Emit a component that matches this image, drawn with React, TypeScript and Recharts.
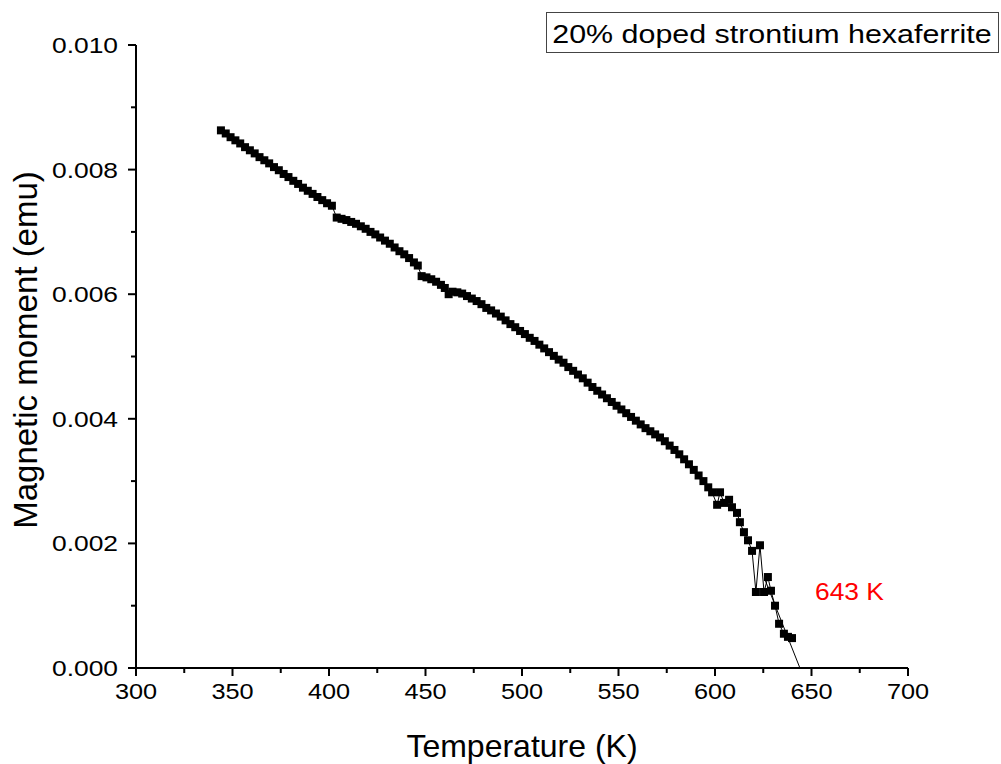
import { ComposedChart, Line, XAxis, YAxis } from "recharts";

// measured points, in temperature order
const temps = [
  344, 346.5, 349, 351.5, 354, 356.5, 359, 361.5, 364, 366.5, 369, 371.5, 374, 376.5, 379, 381.5,
  384, 386.5, 389, 391.5, 394, 396.5, 399, 401.5,
  404, 406.5, 409, 411.5, 414, 416.5, 419, 421.5, 424, 426.5, 429, 431.5, 434, 436.5, 439, 441.5,
  444, 446,
  448, 450.5, 453, 455.5, 458, 460, 462, 464, 466.5, 469, 471.5, 474, 476.5, 479, 481.5, 484,
  486.5, 489, 491.5, 494, 496.5, 499, 501.5, 504, 506.5, 509, 511.5, 514, 516.5, 519, 521.5, 524,
  526.5, 529, 531.5, 534, 536.5, 539, 541.5, 544, 546.5, 549, 551.5, 554, 556.5, 559, 561.5, 564,
  566.5, 569, 571.5, 574, 576.5, 579, 581.5, 584, 586.5, 589, 591.5, 594, 596.5, 598.5,
  601.1, 602.6, 604.7, 607.3, 608.8, 611.4, 612.9, 615, 617.1, 619.2, 621.2, 623.3, 625.4, 627.4,
  629, 631.1, 633.2, 635.7, 637.8, 639.9,
];

const moments = [
  0.00863, 0.00858, 0.00852, 0.00847, 0.00842, 0.00836, 0.00831, 0.00826, 0.0082, 0.00815, 0.0081,
  0.00804, 0.00799, 0.00793, 0.00788, 0.00782, 0.00777, 0.00771, 0.00766, 0.00761, 0.00756,
  0.00751, 0.00746, 0.00742,
  0.00723, 0.00721, 0.00719, 0.00716, 0.00713, 0.00709, 0.00705, 0.007, 0.00696, 0.00691, 0.00686,
  0.00681, 0.00675, 0.00669, 0.00664, 0.00658, 0.00651, 0.00646,
  0.00629, 0.00627, 0.00624, 0.0062, 0.00615, 0.0061, 0.006, 0.00604, 0.00603, 0.00601, 0.00597,
  0.00593, 0.00589, 0.00584, 0.00578, 0.00574, 0.00569, 0.00564, 0.00558, 0.00552, 0.00547,
  0.00541, 0.00536, 0.0053, 0.00525, 0.00519, 0.00513, 0.00507, 0.00501, 0.00495, 0.0049, 0.00483,
  0.00477, 0.00471, 0.00465, 0.00458, 0.00451, 0.00445, 0.00439, 0.00433, 0.00427, 0.00421,
  0.00415, 0.00409, 0.00403, 0.00397, 0.00391, 0.00385, 0.0038, 0.00375, 0.0037, 0.00364, 0.00357,
  0.0035, 0.00343, 0.00335, 0.00327, 0.00318, 0.00309, 0.003, 0.0029, 0.00282,
  0.00262, 0.00282, 0.00265, 0.0027, 0.00258, 0.00249, 0.00234, 0.00218, 0.00205, 0.00188,
  0.00122, 0.00197, 0.00122, 0.00146, 0.00124, 0.001, 0.00071, 0.00055, 0.0005, 0.00048,
];

// linear extrapolation to the Curie point
const fitTemps = [626, 644];
const fitMoments = [0.00141, 0];

const xTicks = [300, 325, 350, 375, 400, 425, 450, 475, 500, 525, 550, 575, 600, 625, 650, 675, 700];
const yTicks = [0, 0.001, 0.002, 0.003, 0.004, 0.005, 0.006, 0.007, 0.008, 0.009, 0.01];

const points = temps.map((t, i) => ({ t, m: moments[i] }));
const fit = fitTemps.map((t, i) => ({ t, m: fitMoments[i] }));

const font = "'Liberation Sans', Arial, sans-serif";

function SquareDot(props: any) {
  const { cx, cy } = props;
  if (cx == null || cy == null) return null;
  return <rect x={cx - 4} y={cy - 4} width={8} height={8} fill="#000" />;
}

function XTick(props: any) {
  const { x, y, payload } = props;
  const major = payload.value % 50 === 0;
  return (
    <g>
      <line x1={x} x2={x} y1={y} y2={y + (major ? 8 : 5)} stroke="#000" strokeWidth={2} />
      {major && (
        <text
          transform={`translate(${x},${y + 31}) scale(1.15,1)`}
          textAnchor="middle"
          fontSize={22}
          fontFamily={font}
          fill="#000"
        >
          {payload.value}
        </text>
      )}
    </g>
  );
}

function YTick(props: any) {
  const { x, y, payload } = props;
  const major = Math.round(payload.value * 1000) % 2 === 0;
  return (
    <g>
      <line x1={x} x2={x - (major ? 8 : 5)} y1={y} y2={y} stroke="#000" strokeWidth={2} />
      {major && (
        <text
          transform={`translate(${x - 18},${y + 8}) scale(1.2,1)`}
          textAnchor="end"
          fontSize={22}
          fontFamily={font}
          fill="#000"
        >
          {payload.value.toFixed(3)}
        </text>
      )}
    </g>
  );
}

export default function App() {
  return (
    <div style={{ position: "absolute", left: 0, top: 0, width: 1001, height: 764, background: "#fff" }}>
      <ComposedChart width={1001} height={764} margin={{ top: 45, right: 93, bottom: 0, left: 0 }}>
        <XAxis
          dataKey="t"
          type="number"
          domain={[300, 700]}
          ticks={xTicks}
          interval={0}
          allowDataOverflow
          height={96}
          tickSize={0}
          tickMargin={0}
          tickLine={false}
          axisLine={{ stroke: "#000", strokeWidth: 2 }}
          tick={<XTick />}
        />
        <YAxis
          dataKey="m"
          type="number"
          domain={[0, 0.01]}
          ticks={yTicks}
          interval={0}
          allowDataOverflow
          width={136}
          tickSize={0}
          tickMargin={0}
          tickLine={false}
          axisLine={{ stroke: "#000", strokeWidth: 2 }}
          tick={<YTick />}
        />
        <Line
          data={points}
          dataKey="m"
          stroke="#000"
          strokeWidth={1}
          dot={<SquareDot />}
          activeDot={false}
          isAnimationActive={false}
        />
        <Line
          data={fit}
          dataKey="m"
          stroke="#000"
          strokeWidth={1}
          dot={false}
          activeDot={false}
          isAnimationActive={false}
        />
      </ComposedChart>
      <svg
        width={1001}
        height={764}
        style={{ position: "absolute", left: 0, top: 0, pointerEvents: "none" }}
        fontFamily={font}
      >
        <text x={522} y={757} textAnchor="middle" fontSize={32} fill="#000">
          Temperature (K)
        </text>
        <text transform="translate(37,350) rotate(-90)" textAnchor="middle" fontSize={33} fill="#000">
          Magnetic moment (emu)
        </text>
        <text transform="translate(815,600) scale(1.1,1)" fontSize={24} fill="#ff0000">
          643 K
        </text>
        <rect x={546.5} y={12.5} width={452} height={40} fill="#fff" stroke="#444" strokeWidth={1} />
        <text transform="translate(772,43) scale(1.17,1)" textAnchor="middle" fontSize={26} fill="#000">
          20% doped strontium hexaferrite
        </text>
      </svg>
    </div>
  );
}
